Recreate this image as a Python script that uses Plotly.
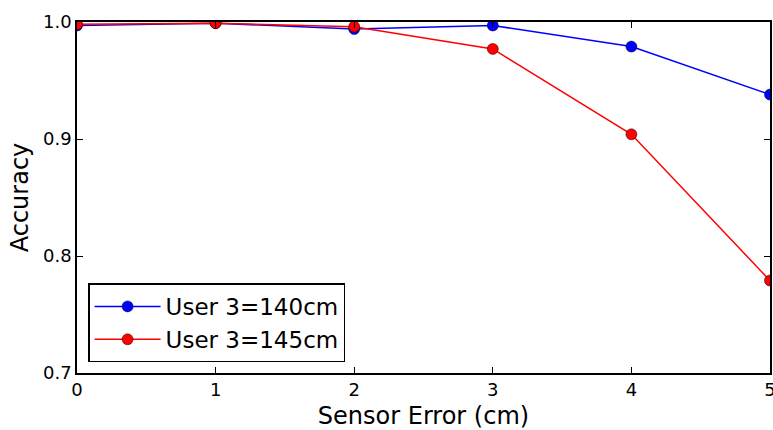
import plotly.graph_objects as go

sensor_error = [0, 1, 2, 3, 4, 5]
acc_140 = [0.997, 0.999, 0.994, 0.997, 0.979, 0.938]
acc_145 = [0.998, 0.999, 0.996, 0.977, 0.904, 0.779]
name_140 = "User 3=140cm"
name_145 = "User 3=145cm"
y_ticks = [0.7, 0.8, 0.9, 1.0]
x_ticks = [0, 1, 2, 3, 4, 5]

fig = go.Figure()
fig.add_trace(go.Scatter(x=sensor_error, y=acc_140, name=name_140, mode="lines+markers",
                         line=dict(color="#0000ff", width=1.5),
                         marker=dict(color="#0000ff", size=11, line=dict(color="#000000", width=0.5))))
fig.add_trace(go.Scatter(x=sensor_error, y=acc_145, name=name_145, mode="lines+markers",
                         line=dict(color="#ff0000", width=1.5),
                         marker=dict(color="#ff0000", size=11, line=dict(color="#000000", width=0.5))))

font = "DejaVu Sans, sans-serif"
fig.update_layout(
    width=773, height=430,
    margin=dict(l=77, r=3, t=22, b=57, autoexpand=False),
    paper_bgcolor="white", plot_bgcolor="white",
    font=dict(family=font, color="#000000", size=18),
    showlegend=True,
    legend=dict(x=0.016, y=0.03, xanchor="left", yanchor="bottom",
                bordercolor="#000000", borderwidth=1.5, bgcolor="white",
                font=dict(size=23), itemwidth=66, tracegroupgap=2),
    xaxis=dict(range=[0, 5], tickvals=x_ticks, ticktext=[str(v) for v in x_ticks],
               showgrid=False, zeroline=False, showline=True, linecolor="#000000", linewidth=1.5,
               mirror="allticks", ticks="inside", ticklen=6, tickcolor="#000000", automargin=False,
               ticklabeloverflow="allow",
               title=dict(text="Sensor Error (cm)", font=dict(size=24), standoff=10)),
    yaxis=dict(range=[0.7, 1.0], tickvals=y_ticks, ticktext=["0.7", "0.8", "0.9", "1.0"],
               showgrid=False, zeroline=False, showline=True, linecolor="#000000", linewidth=1.5,
               mirror="allticks", ticks="inside", ticklen=6, tickcolor="#000000", automargin=False,
               ticklabeloverflow="allow",
               title=dict(text="Accuracy", font=dict(size=24), standoff=8)),
)

fig.write_html("out.html", config={"displayModeBar": False},
               post_script="document.body.style.margin='0px';")
